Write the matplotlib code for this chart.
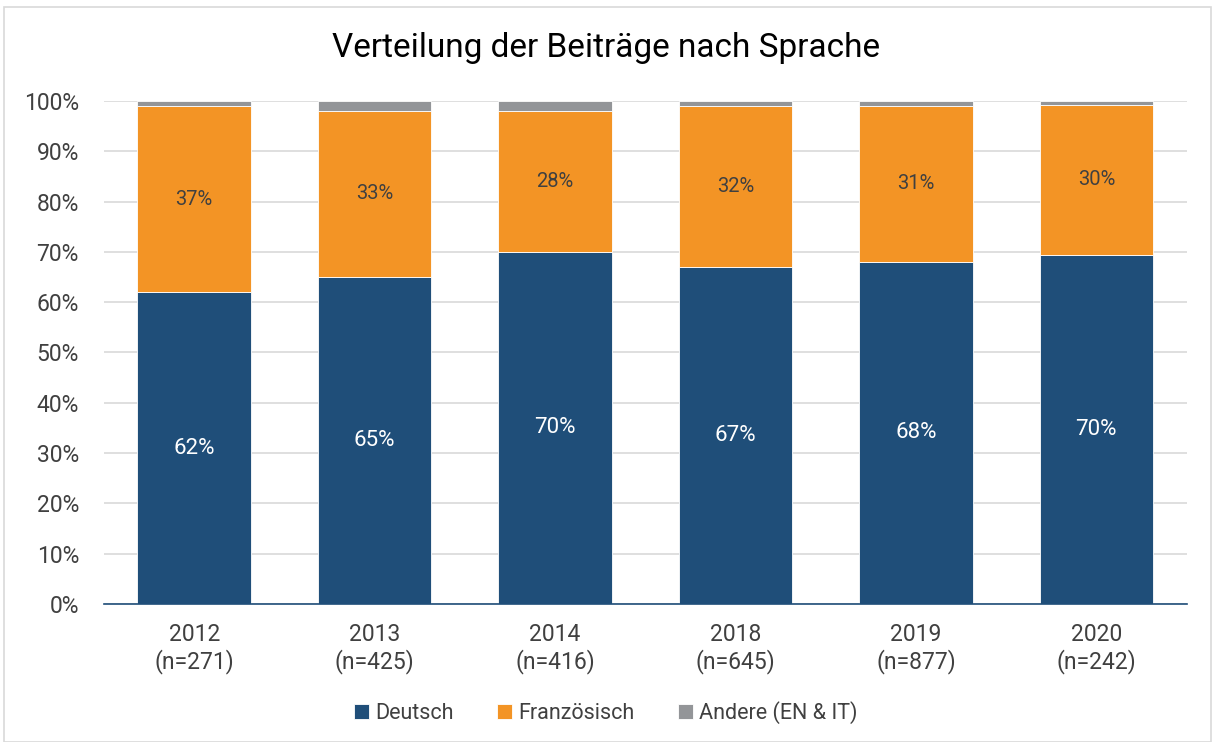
import numpy as np
import matplotlib.pyplot as plt
from matplotlib.patches import Rectangle

years = ["2012", "2013", "2014", "2018", "2019", "2020"]
counts = [271, 425, 416, 645, 877, 242]
deutsch = [62.0, 65.0, 70.0, 67.0, 68.0, 69.4]
franz = [37.0, 33.0, 28.0, 32.0, 31.0, 29.8]
andere = [1.0, 2.0, 2.0, 1.0, 1.0, 0.8]
deutsch_lbl = ["62%", "65%", "70%", "67%", "68%", "70%"]
franz_lbl = ["37%", "33%", "28%", "32%", "31%", "30%"]

c_de, c_fr, c_an = "#1F4E79", "#F39425", "#939598"
txt = "#404040"

plt.rcParams['font.family'] = ['Roboto', 'DejaVu Sans']

fig = plt.figure(figsize=(12.12, 7.42), dpi=100)
ax = fig.add_axes([0.0858, 0.186, 0.8932, 0.678])
fig.patches.append(Rectangle((0.003, 0.0), 0.996, 0.99, transform=fig.transFigure,
                             fill=False, edgecolor="#D9D9D9", lw=1.2))

x = np.arange(len(years))
w = 0.63
de = np.array(deutsch)
fr = np.array(franz)
an = np.array(andere)
ax.bar(x, de, w, color=c_de, edgecolor="white", linewidth=0.6, label="Deutsch", zorder=3)
ax.bar(x, fr, w, bottom=de, color=c_fr, edgecolor="white", linewidth=0.6, label="Französisch", zorder=3)
ax.bar(x, an, w, bottom=de + fr, color=c_an, edgecolor="white", linewidth=0.6, label="Andere (EN & IT)", zorder=3)

for i in range(len(years)):
    ax.text(x[i], de[i] / 2, deutsch_lbl[i], ha="center", va="center", color="white", fontsize=16, zorder=4)
    ax.text(x[i], de[i] + fr[i] / 2, franz_lbl[i], ha="center", va="center", color=txt, fontsize=14.5, zorder=4)

ax.set_xlim(-0.5, len(years) - 0.5)
ax.set_ylim(0, 100)
ax.set_yticks(np.arange(0, 101, 10))
ax.set_yticklabels([f"{v}%" for v in range(0, 101, 10)], fontsize=16.5, color=txt)
ax.set_xticks(x)
ax.set_xticklabels([f"{y}\n(n={n})" for y, n in zip(years, counts)], fontsize=16.5, color=txt, linespacing=1.15)
ax.tick_params(axis="y", length=0, pad=18)
ax.tick_params(axis="x", length=0, pad=14)
ax.yaxis.grid(True, color="#D9D9D9", lw=1.2, zorder=0)
for s in ["top", "right", "left"]:
    ax.spines[s].set_visible(False)
ax.spines["bottom"].set_color("#1F4E79")
ax.spines["bottom"].set_linewidth(1.2)
ax.spines["bottom"].set_zorder(5)

fig.text(0.5, 0.935, "Verteilung der Beiträge nach Sprache", ha="center", va="center", fontsize=24, color="black")

fig.legend(loc="center", bbox_to_anchor=(0.5, 0.04), ncol=3, frameon=False, fontsize=15.5,
           handlelength=0.7, handleheight=0.7, handletextpad=0.3, columnspacing=2.0, labelcolor=txt)

fig.savefig("out.png", dpi=100)
